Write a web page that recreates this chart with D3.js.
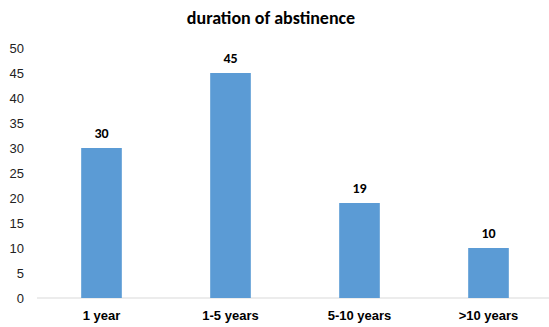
<!DOCTYPE html>
<html><head><meta charset="utf-8">
<script src="https://cdn.jsdelivr.net/npm/d3@7"></script>
<style>body{margin:0;background:#fff}svg{display:block;font-family:Calibri,Carlito,"Open Sans","Liberation Sans",sans-serif}</style>
</head><body>
<svg id="c" width="549" height="327"></svg>
<script>
const categories = ["1 year","1-5 years","5-10 years",">10 years"];
const values = [30,45,19,10];
const yTicks = [0,5,10,15,20,25,30,35,40,45,50];
const title = "duration of abstinence";

const svg = d3.select("#c");
const x = d3.scaleBand().domain(categories).range([37,553]).paddingInner(0.685).paddingOuter(0.3425);
const y = d3.scaleLinear().domain([0,50]).range([298,48]);

svg.append("text").attr("x",271).attr("y",24).attr("text-anchor","middle")
  .attr("font-size",18).attr("font-weight","bold").attr("fill","#000").text(title);

const ya = svg.append("g").attr("transform","translate(37,0)")
  .call(d3.axisLeft(y).tickValues(yTicks).tickSize(0).tickPadding(13));
ya.select(".domain").remove();
ya.selectAll("text").attr("font-size",13).attr("fill","#222").style("font-family","inherit");

svg.append("line").attr("x1",37).attr("x2",549).attr("y1",y(0)).attr("y2",y(0))
  .attr("stroke","#d9d9d9").attr("stroke-width",1);

svg.selectAll("rect.bar").data(values).join("rect").attr("class","bar")
  .attr("x",(d,i)=>x(categories[i])).attr("width",x.bandwidth())
  .attr("y",d=>y(d)).attr("height",d=>y(0)-y(d)).attr("fill","#5B9BD5");

svg.selectAll("text.val").data(values).join("text").attr("class","val")
  .attr("x",(d,i)=>x(categories[i])+x.bandwidth()/2).attr("y",d=>y(d)-10)
  .attr("text-anchor","middle").attr("font-size",14).attr("font-weight","bold").attr("fill","#000")
  .text(d=>d);

const xa = svg.append("g").attr("transform",`translate(0,${y(0)})`)
  .call(d3.axisBottom(x).tickSize(0).tickPadding(13));
xa.select(".domain").remove();
xa.selectAll("text").attr("font-size",13).attr("font-weight","bold").attr("fill","#000").style("font-family","inherit");
</script>
</body></html>
